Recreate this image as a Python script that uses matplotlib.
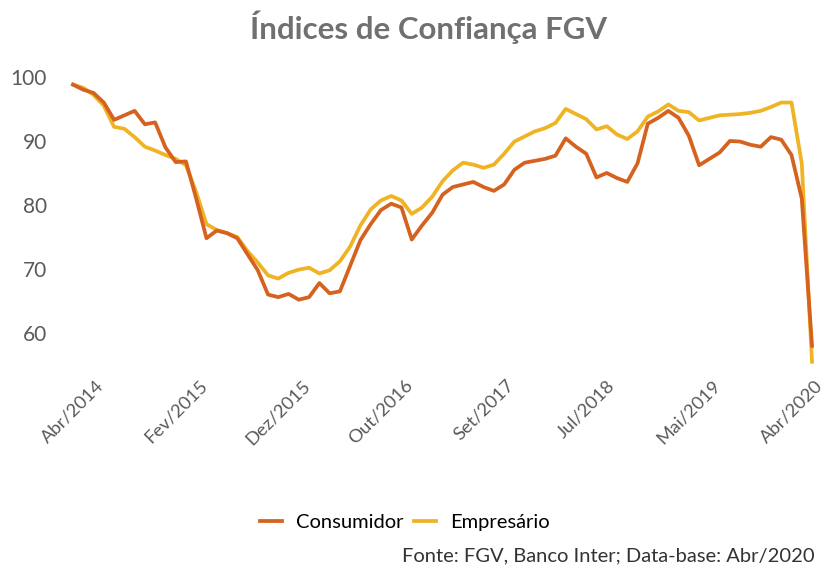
import matplotlib
matplotlib.use('Agg')
import matplotlib.pyplot as plt
import numpy as np

plt.rcParams['font.family'] = ['Lato', 'DejaVu Sans']

# Monthly indices, Abr/2014 .. Abr/2020 (73 months)
consumidor = [98.8, 98.0, 97.5, 96.0, 93.3, 94.0, 94.7, 92.6, 92.9, 89.0,
              86.7, 86.8, 81.0, 74.8, 76.0, 75.6, 74.8, 72.3, 69.8, 66.0,
              65.6, 66.1, 65.2, 65.6, 67.8, 66.2, 66.5, 70.5, 74.5, 77.0,
              79.2, 80.2, 79.6, 74.6, 76.8, 78.8, 81.6, 82.8, 83.2, 83.6,
              82.8, 82.2, 83.2, 85.5, 86.6, 86.9, 87.2, 87.7, 90.4, 89.1,
              88.0, 84.3, 85.0, 84.2, 83.6, 86.5, 92.7, 93.6, 94.7, 93.6,
              90.8, 86.2, 87.2, 88.2, 90.0, 89.9, 89.4, 89.1, 90.6, 90.2,
              87.8, 81.0, 58.0]
empresario = [98.8, 98.3, 97.2, 95.5, 92.2, 91.9, 90.6, 89.1, 88.5, 87.8,
              87.2, 86.2, 82.0, 77.0, 76.1, 75.6, 75.0, 72.8, 71.0, 69.0,
              68.5, 69.4, 69.9, 70.2, 69.3, 69.8, 71.2, 73.5, 76.8, 79.3,
              80.7, 81.4, 80.7, 78.6, 79.6, 81.3, 83.7, 85.4, 86.6, 86.3,
              85.8, 86.3, 88.0, 89.9, 90.7, 91.5, 92.0, 92.8, 95.0, 94.2,
              93.4, 91.8, 92.3, 91.0, 90.3, 91.5, 93.8, 94.6, 95.7, 94.7,
              94.5, 93.2, 93.6, 94.0, 94.1, 94.2, 94.4, 94.7, 95.3, 96.0,
              96.0, 86.5, 55.5]
tick_idx = [0, 10, 20, 30, 40, 50, 60, 70]
tick_labels = ['Abr/2014', 'Fev/2015', 'Dez/2015', 'Out/2016',
               'Set/2017', 'Jul/2018', 'Mai/2019', 'Abr/2020']

c_cons = '#D5621E'
c_emp = '#F0B323'
gray = '#5a5a5a'

fig = plt.figure(figsize=(8.25, 5.72), dpi=100)
ax = fig.add_axes([0.0823, 0.3507, 0.9082, 0.526])

x = np.arange(len(consumidor))
ax.plot(x, empresario, color=c_emp, lw=2.7, label='Empresário', zorder=2)
ax.plot(x, consumidor, color=c_cons, lw=2.7, label='Consumidor', zorder=3)

ax.set_xlim(-0.5, len(consumidor) - 0.5)
ax.set_ylim(54, 101)
ax.set_yticks([60, 70, 80, 90, 100])
ax.tick_params(axis='y', length=0, pad=15, labelsize=15, labelcolor=gray)
ax.set_xticks(tick_idx)
ax.set_xticklabels(tick_labels, rotation=45, ha='center')
ax.tick_params(axis='x', length=0, pad=4, labelsize=13.3, labelcolor=gray)
for s in ax.spines.values():
    s.set_visible(False)

fig.text(0.519, 0.953, 'Índices de Confiança FGV', ha='center', va='center',
         fontsize=22.5, fontweight='bold', color='#707070')

h_emp, h_cons = ax.get_legend_handles_labels()[0]
fig.legend([h_cons, h_emp], ['Consumidor', 'Empresário'], loc='center',
           bbox_to_anchor=(0.491, 0.087), ncol=2, frameon=False,
           fontsize=14.5, handlelength=1.1, columnspacing=0.5, handletextpad=0.7)

fig.text(0.988, 0.028, 'Fonte: FGV, Banco Inter; Data-base: Abr/2020',
         ha='right', va='center', fontsize=14.5, color='#333333')

plt.savefig('out.png', dpi=100, facecolor='white')
